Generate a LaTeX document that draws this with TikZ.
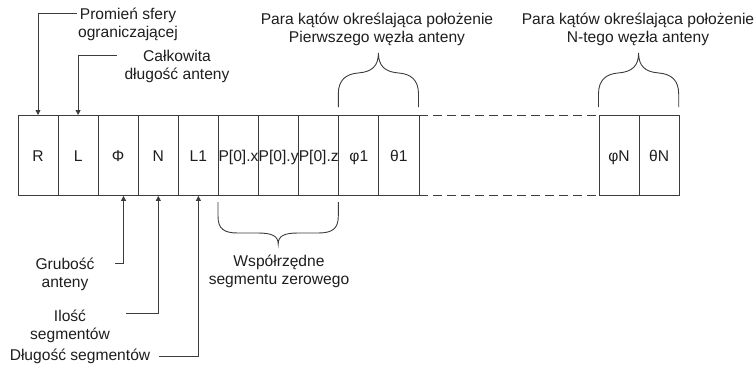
\documentclass[tikz,border=0pt]{standalone}
\usepackage{fontspec}
\setmainfont{Liberation Sans}
\usetikzlibrary{arrows.meta}
\definecolor{lc}{RGB}{60,60,60}
\definecolor{tc}{RGB}{30,30,30}
\begin{document}
\begin{tikzpicture}[x=1pt,y=-1pt,
  font=\fontsize{15.6pt}{18pt}\selectfont,
  ln/.style={draw=lc, line width=0.9pt},
  cell/.style={ln, minimum width=40.1pt, minimum height=80pt, inner sep=0pt,
    text height=11.2pt, text depth=0pt, anchor=north west, text=tc},
  arr/.style={ln, -{Triangle[length=5pt,width=5pt]}},
  lbl/.style={align=center, inner sep=0pt, text=tc}]
\useasboundingbox (0,0) rectangle (755,365);
% cells
\node[cell] (c1) at (17.5,115) {R};
\node[cell] (c2) at (57.6,115) {L};
\node[cell] (c3) at (97.7,115) {Φ};
\node[cell] (c4) at (137.8,115) {N};
\node[cell] (c5) at (177.9,115) {L1};
\node[cell] (c6) at (218.0,115) {P[0].x};
\node[cell] (c7) at (258.1,115) {P[0].y};
\node[cell] (c8) at (298.2,115) {P[0].z};
\node[cell] (c9) at (338.3,115) {φ1};
\node[cell] (c10) at (378.4,115) {θ1};
\node[cell] (cN1) at (598.5,115) {φN};
\node[cell] (cN2) at (638.6,115) {θN};
\draw[ln, dash pattern=on 9pt off 5pt] (c10.north east) -- (cN1.north west);
\draw[ln, dash pattern=on 9pt off 5pt] (c10.south east) -- (cN1.south west);
% labels
\node[lbl] (tR) at (128,24) {Promień sfery\\ograniczającej};
\node[lbl] (tL) at (177,66) {Całkowita\\długość anteny};
\node[lbl] (tP1) at (377,29) {Para kątów określająca położenie\\Pierwszego węzła anteny};
\node[lbl] (tPN) at (638,29) {Para kątów określająca położenie\\N-tego węzła anteny};
\node[lbl] (tW) at (279,271) {Współrzędne\\segmentu zerowego};
\node[lbl] (tG) at (65,274) {Grubość\\anteny};
\node[lbl] (tI) at (70,326) {Ilość\\segmentów};
\node[lbl] (tD) at (80,356) {Długość segmentów};
% arrow free ends
\coordinate (aR) at (77,13);
\coordinate (aL) at (117,55);
\coordinate (aG) at (115,263);
\coordinate (aI) at (126,313);
\coordinate (aD) at (159,356);
\draw[arr] (aR) -| (c1.north);
\draw[arr] (aL) -| (c2.north);
\draw[arr] (aG) -| ([xshift=5.3pt]c3.south);
\draw[arr] (aI) -| (c4.south);
\draw[arr] (aD) -| (c5.south);
% braces
\draw[ln] (338.3,107) -- (338.3,94) .. controls (338.3,80) and (346,74) .. (358,73)
  .. controls (372,72) and (378.4,66) .. (378.4,53)
  .. controls (378.4,66) and (385,72) .. (398.8,73)
  .. controls (411,74) and (418.5,80) .. (418.5,94) -- (418.5,107);
\draw[ln] (598.5,107) -- (598.5,94) .. controls (598.5,80) and (606,74) .. (618,73)
  .. controls (632,72) and (638.6,66) .. (638.6,53)
  .. controls (638.6,66) and (645,72) .. (658.9,73)
  .. controls (671,74) and (678.7,80) .. (678.7,94) -- (678.7,107);
\draw[ln] (218,202) -- (218,216) .. controls (218,229) and (224,233) .. (238,233)
  -- (258,233) .. controls (272,233) and (278.2,236) .. (278.2,244)
  .. controls (278.2,236) and (284,233) .. (298,233)
  -- (318,233) .. controls (332,233) and (338.3,229) .. (338.3,216) -- (338.3,202);
\end{tikzpicture}
\end{document}
